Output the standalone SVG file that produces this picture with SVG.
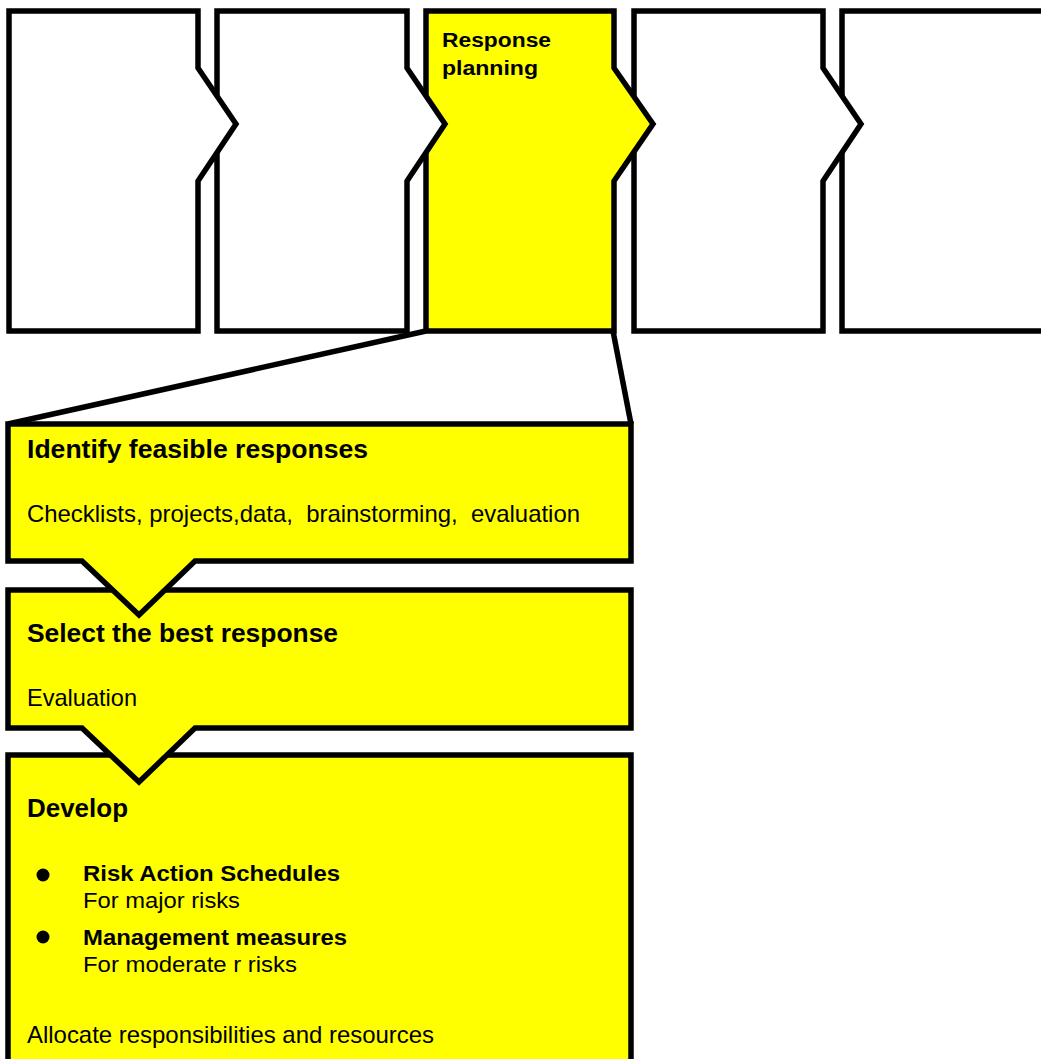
<svg xmlns="http://www.w3.org/2000/svg" width="1041" height="1059" viewBox="0 0 1041 1059">
<style>
.shape{stroke:#000;stroke-width:5.5;stroke-linejoin:miter;stroke-miterlimit:10}
.white{fill:#fff}
.yellow{fill:#ffff00}
.conn{stroke:#000;stroke-width:5.5;fill:none;stroke-linecap:butt}
text{font-family:"Liberation Sans",Arial,sans-serif;fill:#000;white-space:pre}
.b{font-weight:bold}
</style>
<rect width="1041" height="1059" fill="#fff"/>
<g id="connectors">
<line class="conn" x1="426" y1="331" x2="8" y2="424"/>
<line class="conn" x1="613" y1="331" x2="631" y2="424"/>
</g>
<g id="stage5"><path class="shape white" d="M842,11 H1060 V331 H842 Z"/></g>
<g id="stage4"><path class="shape white" d="M634,11 H823 V68 L861,124 L823,181 V331 H634 Z"/></g>
<g id="stage3">
<path class="shape yellow" d="M426,11 H614 V68 L653,124 L614,181 V331 H426 Z"/>
<text class="b" x="442" y="47" font-size="20" textLength="109" lengthAdjust="spacingAndGlyphs">Response</text>
<text class="b" x="442" y="75" font-size="20" textLength="96" lengthAdjust="spacingAndGlyphs">planning</text>
</g>
<g id="stage2"><path class="shape white" d="M217,11 H407 V68 L445,124 L407,181 V331 H217 Z"/></g>
<g id="stage1"><path class="shape white" d="M9,11 H198 V68 L236,124 L198,181 V331 H9 Z"/></g>
<g id="develop">
<path class="shape yellow" d="M8,755 H631 V1075 H8 Z"/>
<text class="b" x="27" y="817" font-size="25" textLength="101" lengthAdjust="spacingAndGlyphs">Develop</text>
<circle cx="43" cy="875" r="6.5" fill="#000"/>
<text class="b" x="83" y="881" font-size="22" textLength="257" lengthAdjust="spacingAndGlyphs">Risk Action Schedules</text>
<text x="83" y="908" font-size="22" textLength="157" lengthAdjust="spacingAndGlyphs">For major risks</text>
<circle cx="43" cy="937" r="6.5" fill="#000"/>
<text class="b" x="83" y="945" font-size="22" textLength="264" lengthAdjust="spacingAndGlyphs">Management measures</text>
<text x="83" y="972" font-size="22" textLength="214" lengthAdjust="spacingAndGlyphs">For moderate r risks</text>
<text x="27" y="1043" font-size="24" textLength="407" lengthAdjust="spacingAndGlyphs">Allocate responsibilities and resources</text>
</g>
<g id="select">
<path class="shape yellow" d="M8,590 H631 V728 H195 L139,782 L82,728 H8 Z"/>
<text class="b" x="27" y="642" font-size="26" textLength="311" lengthAdjust="spacingAndGlyphs">Select the best response</text>
<text x="27" y="706" font-size="24" textLength="110" lengthAdjust="spacingAndGlyphs">Evaluation</text>
</g>
<g id="identify">
<path class="shape yellow" d="M8,424 H631 V561 H195 L139,615 L82,561 H8 Z"/>
<text class="b" x="27" y="458" font-size="26" textLength="341" lengthAdjust="spacingAndGlyphs">Identify feasible responses</text>
<text x="27" y="521.5" font-size="24" textLength="553" lengthAdjust="spacingAndGlyphs">Checklists, projects,data,  brainstorming,  evaluation</text>
</g>
</svg>
